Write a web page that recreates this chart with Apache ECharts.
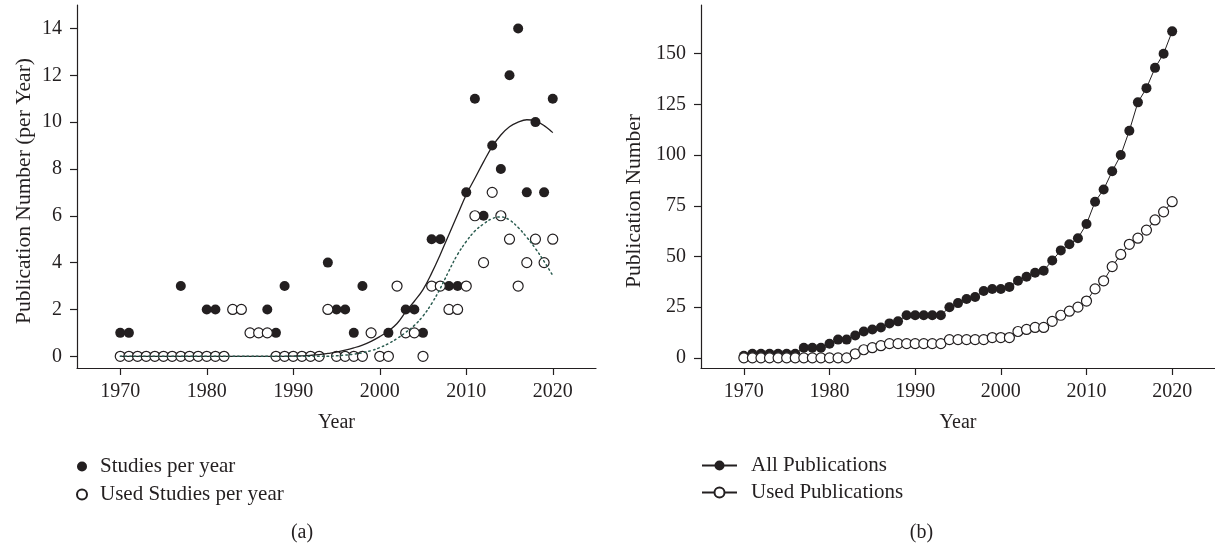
<!DOCTYPE html>
<html>
<head>
<meta charset="utf-8">
<script src="https://cdn.jsdelivr.net/npm/echarts@6/dist/echarts.min.js"></script>
<style>
  html, body { margin: 0; padding: 0; background: #fff; }
  #chart { width: 1215px; height: 546px; }
</style>
</head>
<body>
<div id="chart"></div>
<script>
// ---- data ----
const years = [1970,1971,1972,1973,1974,1975,1976,1977,1978,1979,
               1980,1981,1982,1983,1984,1985,1986,1987,1988,1989,
               1990,1991,1992,1993,1994,1995,1996,1997,1998,1999,
               2000,2001,2002,2003,2004,2005,2006,2007,2008,2009,
               2010,2011,2012,2013,2014,2015,2016,2017,2018,2019,2020];
const studiesPerYear = [1,1,0,0,0,0,0,3,0,0,
                        2,2,0,2,2,1,1,2,1,3,
                        0,0,0,0,4,2,2,1,3,1,
                        0,1,3,2,2,1,5,5,3,3,
                        7,11,6,9,8,12,14,7,10,7,11];
const usedPerYear = [0,0,0,0,0,0,0,0,0,0,
                     0,0,0,2,2,1,1,1,0,0,
                     0,0,0,0,2,0,0,0,0,1,
                     0,0,3,1,1,0,3,3,2,2,
                     3,6,4,7,6,5,3,4,5,4,5];
// fitted curves
const studiesFit = [0,0,0,0,0,0,0,0,0,0,
                    0,0,0,0,0,0,0,0,0,0,
                    0.01,0.02,0.04,0.07,0.12,0.18,0.26,0.36,0.48,0.64,
                    0.84,1.08,1.4,1.9,2.35,2.85,3.55,4.35,5.2,6.05,
                    6.9,7.6,8.3,8.95,9.45,9.8,10.0,10.1,10.05,9.85,9.55];
const usedFit = [0,0,0,0,0,0,0,0,0,0,
                 0,0,0,0,0,0,0,0,0,0,
                 0,0,0,0,0,0.02,0.05,0.09,0.15,0.24,
                 0.37,0.54,0.76,1.02,1.32,1.72,2.25,2.9,3.65,4.35,
                 4.9,5.35,5.65,5.88,5.95,5.82,5.5,5.08,4.6,4.05,3.45];
const allPublications = [1,2,2,2,2,2,2,5,5,5,
                         7,9,9,11,13,14,15,17,18,21,
                         21,21,21,21,25,27,29,30,33,34,
                         34,35,38,40,42,43,48,53,56,59,
                         66,77,83,92,100,112,126,133,143,150,161];
const usedPublications = [0,0,0,0,0,0,0,0,0,0,
                          0,0,0,2,4,5,6,7,7,7,
                          7,7,7,7,9,9,9,9,9,10,
                          10,10,13,14,15,15,18,21,23,25,
                          28,34,38,45,51,56,59,63,68,72,77];
const xTicks = [1970,1980,1990,2000,2010,2020];
const yTicksLeft = [0,2,4,6,8,10,12,14];
const yTicksRight = [0,25,50,75,100,125,150];

// ---- styling ----
const INK = '#231f20';
const FONT = 'Liberation Serif';
const pair = (arr) => years.map((y, i) => [y, arr[i]]);

function xAxisCfg(gridIndex) {
  return {
    type: 'value', gridIndex, min: 1965, max: 2025,
    axisLine: { show: true, onZero: false, lineStyle: { color: INK, width: 1.2 } },
    axisTick: { show: true, length: 7, customValues: xTicks, lineStyle: { color: INK, width: 1.2 } },
    axisLabel: { customValues: xTicks, margin: 14, color: INK, fontFamily: FONT, fontSize: 20,
                 formatter: (v) => String(v) },
    splitLine: { show: false }
  };
}
function yAxisCfg(gridIndex, min, max, ticks) {
  return {
    type: 'value', gridIndex, min, max,
    axisLine: { show: true, onZero: false, lineStyle: { color: INK, width: 1.2 } },
    axisTick: { show: true, length: 7, customValues: ticks, lineStyle: { color: INK, width: 1.2 } },
    axisLabel: { customValues: ticks, margin: 15, color: INK, fontFamily: FONT, fontSize: 20,
                 formatter: (v) => String(v) },
    splitLine: { show: false }
  };
}
const txt = (text, x, y, size, rot) => ({
  type: 'text', x, y, rotation: rot || 0,
  style: { text, fill: INK, font: size + 'px "' + FONT + '"', align: 'center', verticalAlign: 'middle' }
});

const chart = echarts.init(document.getElementById('chart'), null, { renderer: 'canvas' });
chart.setOption({
  animation: false,
  backgroundColor: '#fff',
  textStyle: { fontFamily: FONT, color: INK },
  grid: [
    { left: 77, top: 5, width: 519, height: 363 },
    { left: 701, top: 5, width: 519, height: 363 }
  ],
  xAxis: [xAxisCfg(0), xAxisCfg(1)],
  yAxis: [yAxisCfg(0, -0.5, 15, yTicksLeft), yAxisCfg(1, -5, 174, yTicksRight)],
  legend: [
    {
      data: ['Studies per year', 'Used Studies per year'],
      orient: 'vertical', left: 76, top: 456, padding: 0, itemWidth: 26, itemHeight: 10, itemGap: 7,
      selectedMode: false,
      textStyle: { fontFamily: FONT, fontSize: 21, color: INK, lineHeight: 20 }
    },
    {
      data: ['All Publications', 'Used Publications'],
      orient: 'vertical', left: 701, top: 455, padding: 0, itemWidth: 35, itemHeight: 12.5, itemGap: 6,
      selectedMode: false,
      textStyle: { fontFamily: FONT, fontSize: 21, color: INK, lineHeight: 20, padding: [0, 0, 0, 9] }
    }
  ],
  graphic: [
    txt('Publication Number (per Year)', 24, 191, 21.5, Math.PI / 2),
    txt('Publication Number', 634, 201, 21.5, Math.PI / 2),
    txt('Year', 336.5, 423, 20),
    txt('Year', 958, 423, 20),
    txt('(a)', 302, 533, 20),
    txt('(b)', 921.5, 533, 20)
  ],
  series: [
    {
      name: 'Studies per year', type: 'scatter', xAxisIndex: 0, yAxisIndex: 0,
      symbol: 'circle', symbolSize: 10, data: pair(studiesPerYear),
      itemStyle: { color: INK, opacity: 1 }, z: 2
    },
    {
      name: 'Used Studies per year', type: 'scatter', xAxisIndex: 0, yAxisIndex: 0,
      symbol: 'circle', symbolSize: 10, data: pair(usedPerYear),
      itemStyle: { color: '#fff', borderColor: INK, borderWidth: 1.2, opacity: 1 }, z: 3
    },
    {
      name: 'fitStudies', type: 'line', xAxisIndex: 0, yAxisIndex: 0,
      data: pair(studiesFit), smooth: 0.4, showSymbol: false, symbol: 'none',
      lineStyle: { color: INK, width: 1.3 }, z: 4, silent: true
    },
    {
      name: 'fitUsed', type: 'line', xAxisIndex: 0, yAxisIndex: 0,
      data: pair(usedFit), smooth: 0.4, showSymbol: false, symbol: 'none',
      lineStyle: { color: '#2b5c50', width: 1.5, type: [1.5, 3.2], cap: 'round' }, z: 4, silent: true
    },
    {
      name: 'All Publications', type: 'line', xAxisIndex: 1, yAxisIndex: 1,
      data: pair(allPublications), symbol: 'circle', symbolSize: 10, showAllSymbol: true,
      lineStyle: { color: INK, width: 1 }, itemStyle: { color: INK }, z: 3
    },
    {
      name: 'Used Publications', type: 'line', xAxisIndex: 1, yAxisIndex: 1,
      data: pair(usedPublications), symbol: 'circle', symbolSize: 10, showAllSymbol: true,
      lineStyle: { color: INK, width: 1 },
      itemStyle: { color: '#fff', borderColor: INK, borderWidth: 1.2 }, z: 3
    }
  ]
});
</script>
</body>
</html>
